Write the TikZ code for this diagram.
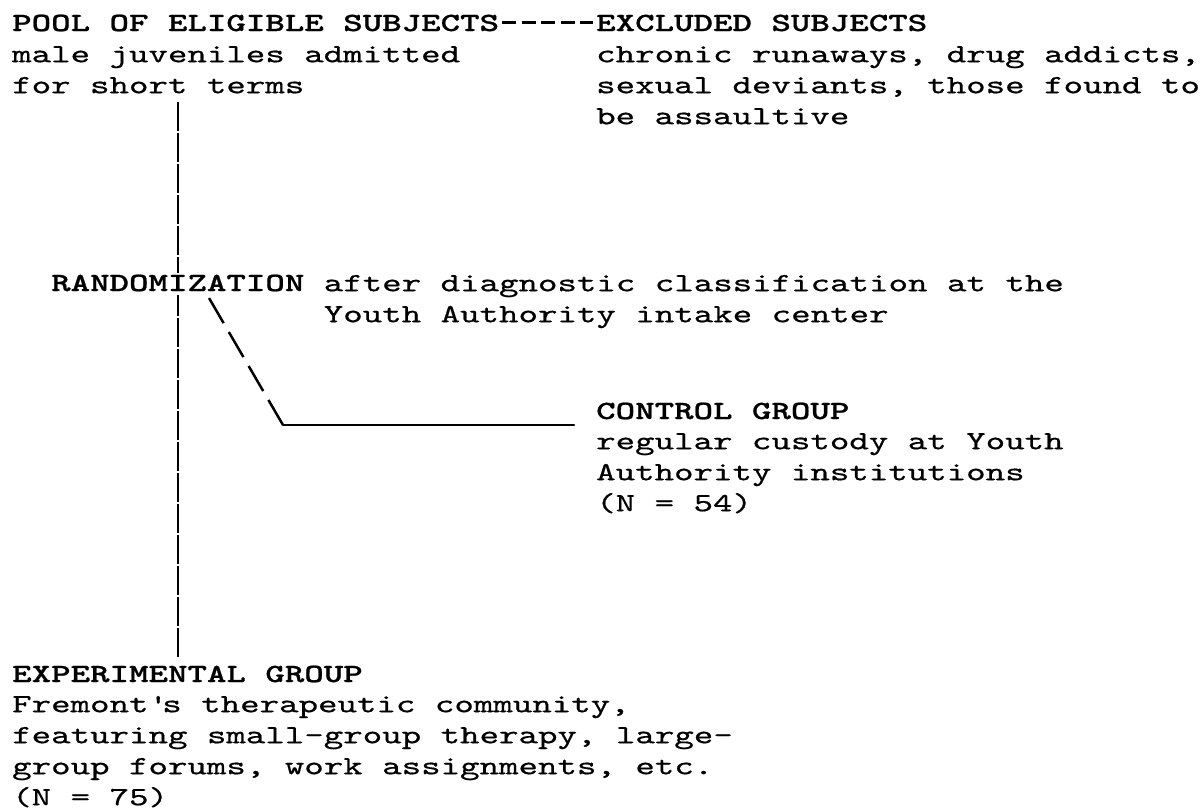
\documentclass[tikz,border=0pt]{standalone}
\usepackage{fontspec}
\newfontfamily\tw{lmmono10-regular.otf}[FakeStretch=1.416, FakeBold=0.6]
\newfontfamily\twb{lmmonolt10-bold.otf}[FakeStretch=1.416, FakeBold=0.8]
\newcommand{\fl}{\rule{0pt}{21pt}}
\begin{document}
\begin{tikzpicture}[x=1pt,y=-1pt,
  title/.style={font=\twb\fontsize{26.2pt}{31pt}\selectfont, anchor=base west, inner sep=0pt},
  desc/.style={font=\tw\fontsize{26.2pt}{31pt}\selectfont, anchor=north west, inner sep=0pt, align=left},
  vl/.style={line width=2pt, dash pattern=on 29pt off 2pt},
  hyph/.style={line width=3pt, dash pattern=on 14pt off 5.477pt, shorten <=2.74pt, shorten >=2.74pt},
  diagline/.style={line width=2.5pt, dash pattern=on 29pt off 10.3pt},
  hl/.style={line width=2.5pt, line cap=round}]
\fill[white] (0,0) rectangle (1203,811);
\useasboundingbox (0,0) rectangle (1203,811);
% top
\node[title] (pool) at (12,31) {POOL OF ELIGIBLE SUBJECTS};
\node[desc] (poolD) at (12,41) {\fl male juveniles admitted\\for short terms};
\node[title] (excl) at (596,31) {EXCLUDED SUBJECTS};
\node[desc] (exclD) at (596,41) {\fl chronic runaways, drug addicts,\\sexual deviants, those found to\\be assaultive};
% randomization
\node[title] (rand) at (50.95,291) {RANDOMIZATION};
\node[desc] (randD) at (323.6,270) {\fl after diagnostic classification at the\\Youth Authority intake center};
% control
\node[title] (ctrl) at (596,419) {CONTROL GROUP};
\node[desc] (ctrlD) at (596,428) {\fl regular custody at Youth\\Authority institutions\\(N = 54)};
% experimental
\node[title] (exp) at (12,682) {EXPERIMENTAL GROUP};
\node[desc] (expD) at (12,691) {\fl Fremont\textquotesingle s therapeutic community,\\featuring small-group therapy, large-\\group forums, work assignments, etc.\\(N = 75)};
% connectors
\draw[hyph] (pool.east) -- (excl.west);
\coordinate (vt) at (177.5,102);
\draw[vl, shorten >=1pt] (vt) -- (vt |- rand.north);
\draw[vl, dash phase=8pt, shorten <=4pt, shorten >=6pt] (vt |- rand.south) -- (vt |- exp.north);
\coordinate (corner) at (283,425);
\coordinate (dstart) at (209,298);
\coordinate (cend) at (574,425);
\draw[diagline] (corner) -- (dstart);
\draw[hl] (corner) -- (cend);
\end{tikzpicture}
\end{document}
